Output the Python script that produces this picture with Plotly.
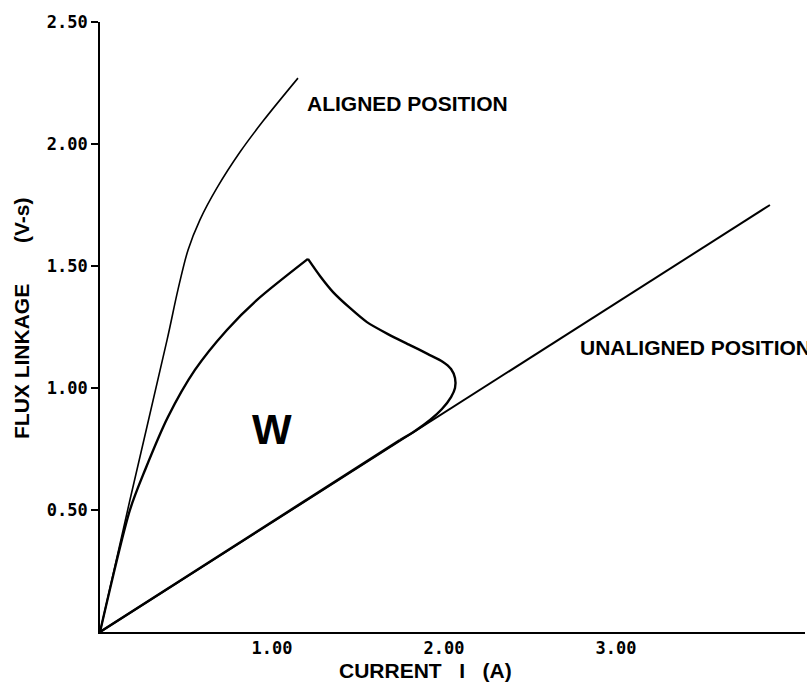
import plotly.graph_objects as go

# Data (current in A, flux linkage in V-s)
aligned_i = [0.0, 0.174, 0.390, 0.453, 0.512, 0.581, 0.680, 0.814, 0.948, 1.151]
aligned_psi = [0.0, 0.541, 1.197, 1.402, 1.566, 1.689, 1.820, 1.967, 2.094, 2.270]

unaligned_i = [0.0, 3.895]
unaligned_psi = [0.0, 1.75]

loop_rise_i = [0.0, 0.174, 0.262, 0.395, 0.552, 0.738, 0.913, 1.209]
loop_rise_psi = [0.0, 0.50, 0.664, 0.881, 1.074, 1.238, 1.361, 1.529]

loop_fall_i = [1.209, 1.279, 1.355, 1.453, 1.552, 1.674, 1.802, 1.907, 1.994, 2.041,
               2.064, 2.064, 2.041, 1.988, 1.919, 1.831, 1.744]
loop_fall_psi = [1.529, 1.459, 1.393, 1.328, 1.270, 1.221, 1.176, 1.139, 1.107, 1.078,
                 1.041, 1.000, 0.963, 0.914, 0.869, 0.824, 0.787]

loop_return_i = [1.744, 0.0]
loop_return_psi = [0.787, 0.0]

y_ticks = [0.5, 1.0, 1.5, 2.0, 2.5]
y_tick_text = ["0.50", "1.00", "1.50", "2.00", "2.50"]
x_ticks = [1.0, 2.0, 3.0]
x_tick_text = ["1.00", "2.00", "3.00"]

fig = go.Figure()
fig.add_trace(go.Scatter(x=aligned_i, y=aligned_psi, mode="lines",
                         line=dict(color="black", width=1.6, shape="spline", smoothing=0.9)))
fig.add_trace(go.Scatter(x=unaligned_i, y=unaligned_psi, mode="lines",
                         line=dict(color="black", width=2)))
fig.add_trace(go.Scatter(x=loop_rise_i, y=loop_rise_psi, mode="lines",
                         line=dict(color="black", width=2.4, shape="spline", smoothing=0.8)))
fig.add_trace(go.Scatter(x=loop_fall_i, y=loop_fall_psi, mode="lines",
                         line=dict(color="black", width=2.4, shape="spline", smoothing=0.7)))
fig.add_trace(go.Scatter(x=loop_return_i, y=loop_return_psi, mode="lines",
                         line=dict(color="black", width=2.4)))

label_font = dict(family="Liberation Sans", size=21, color="black", weight="bold")
fig.add_annotation(x=1.192, y=2.164, text="ALIGNED POSITION", showarrow=False,
                   xanchor="left", yanchor="middle", font=label_font)
fig.add_annotation(x=2.779, y=1.168, text="UNALIGNED POSITION", showarrow=False,
                   xanchor="left", yanchor="middle", font=label_font)
fig.add_annotation(x=1.0, y=0.828, text="W", showarrow=False,
                   xanchor="center", yanchor="middle",
                   font=dict(family="Liberation Sans", size=42, color="black", weight="bold"))

# axis titles
fig.add_annotation(xref="paper", yref="paper", x=(425 - 100) / 705, y=-(670 - 632) / 610,
                   text="CURRENT\u00a0\u00a0\u00a0I\u00a0\u00a0\u00a0(A)", showarrow=False,
                   xanchor="center", yanchor="middle", font=label_font)
fig.add_annotation(xref="paper", yref="paper", x=-(100 - 21) / 705, y=(632 - 318) / 610,
                   text="FLUX LINKAGE\u00a0\u00a0\u00a0\u00a0\u00a0\u00a0\u00a0(V-s)",
                   showarrow=False, textangle=-90,
                   xanchor="center", yanchor="middle", font=label_font)

tick_font = dict(family="DejaVu Sans Mono", size=17, color="black", weight="bold")
fig.update_xaxes(range=[0, 705 / 172], tickvals=x_ticks, ticktext=x_tick_text,
                 showline=True, linecolor="black", linewidth=2, ticks="",
                 showgrid=False, zeroline=False, tickfont=tick_font)
fig.update_yaxes(range=[0, 2.5], tickvals=y_ticks, ticktext=y_tick_text,
                 showline=True, linecolor="black", linewidth=1.6, ticks="outside",
                 ticklen=7, tickwidth=1.6, tickcolor="black",
                 showgrid=False, zeroline=False, tickfont=tick_font)

fig.update_layout(width=807, height=686, showlegend=False,
                  margin=dict(l=100, r=2, t=22, b=54),
                  plot_bgcolor="white", paper_bgcolor="white")

fig.write_html("out.html", config={"displayModeBar": False},
               post_script="document.body.style.margin='0';document.body.style.overflow='hidden';")
